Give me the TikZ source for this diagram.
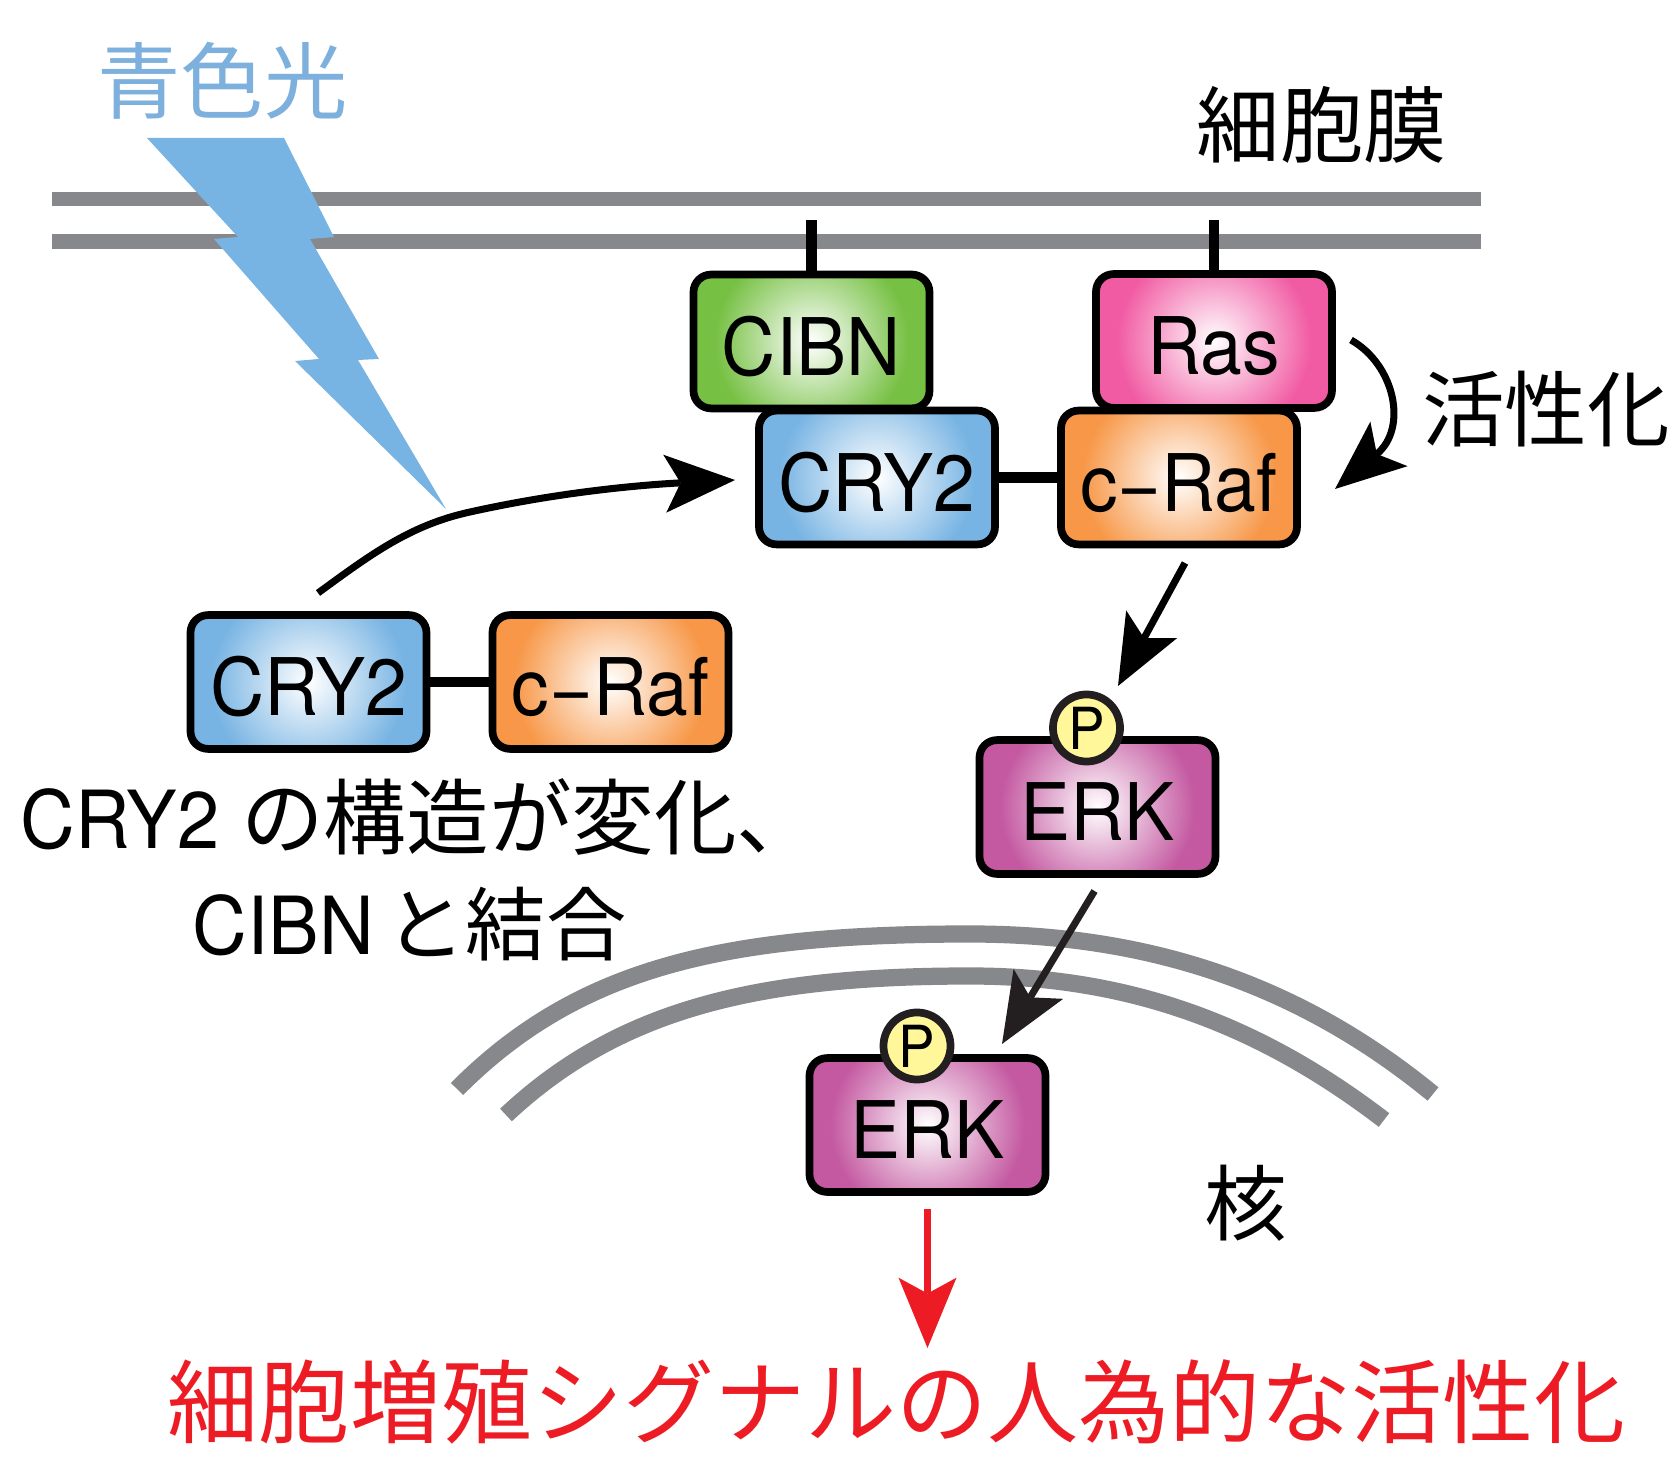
\documentclass[tikz,border=0pt]{standalone}
\usepackage{fontspec}
\setmainfont[FakeStretch=0.945]{TeX Gyre Heros}
\newfontfamily\cjk{Noto Sans CJK JP}
\usetikzlibrary{arrows.meta}

\definecolor{membrane}{HTML}{87888C}
\definecolor{lightblue}{HTML}{78B4E3}
\definecolor{labelblue}{HTML}{7DB0DC}
\definecolor{cibngreen}{HTML}{76C043}
\definecolor{raspink}{HTML}{F15BA3}
\definecolor{raforange}{HTML}{F79747}
\definecolor{erkpurple}{HTML}{C459A1}
\definecolor{pyellow}{HTML}{FFF799}
\definecolor{nearblack}{HTML}{231F20}
\definecolor{signalred}{HTML}{ED1C24}

\newcommand{\declareglow}[1]{%
  \pgfdeclareradialshading{glow#1}{\pgfpointorigin}{%
    color(0bp)=(white); color(18bp)=(#1); color(50bp)=(#1)}}
\declareglow{lightblue}
\declareglow{cibngreen}
\declareglow{raspink}
\declareglow{raforange}
\declareglow{erkpurple}

\tikzset{
  protein/.style = {
    shape = rectangle, draw = black, line width = 2.2pt, rounded corners = 5pt,
    minimum width = 6.7cm * 0.352, minimum height = 3.8cm * 0.352,
    inner sep = 0pt, outer sep = 0pt, fill = #1,
    font = \fontsize{22.6}{24}\selectfont, text height = 19.2pt, text depth = 0pt,
    path picture = {
      \shade[shading = glow#1]
        (path picture bounding box.center) circle (1.35cm);
    }
  },
  phospho/.style = {
    shape = circle, draw = nearblack, line width = 2.2pt, fill = pyellow,
    minimum size = 0.67cm, inner sep = 0pt,
    font = \fontsize{16.5}{17}\selectfont
  },
  caption/.style = {inner sep = 0pt, font = \fontsize{23.5}{26}\selectfont},
  membraneline/.style = {draw = membrane, line width = 4.1pt},
  nucleusline/.style = {draw = membrane, line width = 4.9pt},
  tether/.style = {line width = 2.9pt},
  signal/.style = {
    line width = 2pt,
    -{Stealth[length = 20pt, width = 16.5pt, inset = 4.5pt, line width = 0pt]}
  }
}

\begin{document}
\begin{tikzpicture}[x = 0.01cm, y = -0.01cm]
        \useasboundingbox (0, 0) rectangle (1675, 1458);

        % ------------------------------------------------------------------------
        % Membranes
        \draw[membraneline] (52, 199) -- (1481, 199);
        \draw[membraneline] (52, 241.5) -- (1481, 241.5);

        \draw[nucleusline]
          (457, 1089) .. controls (580, 965) and (730, 934) .. (970, 934)
                      .. controls (1150, 934) and (1300, 985) .. (1433, 1094);
        \draw[nucleusline]
          (506, 1115) .. controls (620, 1008) and (760, 976) .. (970, 976)
                      .. controls (1130, 976) and (1260, 1025) .. (1384, 1120);

        \node[caption, font = \fontsize{23.7}{26}\selectfont] at (1322, 125) (membranelabel) {\cjk 細胞膜};
        \node[caption] at (1246, 1203) (nucleuslabel) {\cjk 核};

        % ------------------------------------------------------------------------
        % Blue light
        \fill[lightblue]
          (147, 138) -- (284, 138) -- (334, 237) -- (310, 239) -- (379, 359)
          -- (358, 360) -- (446, 509) -- (295, 361) -- (319, 359) -- (214, 239)
          -- (238, 237) -- cycle;
        \node[caption, text = labelblue, font = \fontsize{23.7}{26}\selectfont] at (222.5, 81) (lightlabel) {\cjk 青色光};

        % ------------------------------------------------------------------------
        % Before
        \node[protein = lightblue] at (308.5, 682) (cryfree) {CRY2};
        \node[protein = raforange] at (610.5, 682) (raffree) {c−Raf};
        \draw[tether] (cryfree) -- (raffree);

        \node[caption, anchor = west] at (20, 817) (changelabel)
          {{\fontsize{22.8}{26}\selectfont CRY2} {\cjk の構造が変化、}};
        \node[caption, anchor = west] at (192, 924) (bindlabel)
          {{\fontsize{22.8}{26}\selectfont CIBN}\hspace*{3.4pt}{\cjk\fontsize{22.8}{26}\selectfont と結合}};

        % ------------------------------------------------------------------------
        % At the membrane
        \coordinate (cibnroot) at (811.5, 220);
        \coordinate (rasroot) at (1214, 220);

        \node[protein = cibngreen] at (811.5, 341.5) (cibn) {CIBN};
        \node[protein = raspink] at (1214, 341) (ras) {Ras};
        \node[protein = lightblue] at (877, 477.5) (crybound) {CRY2};
        \node[protein = raforange] at (1179, 477.5) (rafbound) {c−Raf};

        \draw[tether]
          (cibnroot) -- (cibn)
          (rasroot) -- (ras)
          (crybound) -- (rafbound)
        ;

        \node[caption] at (1546, 409) (activationlabel) {\cjk 活性化};

        % ------------------------------------------------------------------------
        % ERK
        \node[protein = erkpurple] at (1097.5, 807) (erkcyto) {ERK};
        \node[phospho] at (1086.5, 728) (pcyto) {P};
        \node[protein = erkpurple] at (927.5, 1125) (erknuc) {ERK};
        \node[phospho] at (917, 1046) (pnuc) {P};

        % ------------------------------------------------------------------------
        % Arrows
        \coordinate (bindstart) at (318, 593);
        \coordinate (bindend) at (735, 480);
        \coordinate (activatestart) at (1351, 340);
        \coordinate (activateend) at (1335, 489);
        \coordinate (rafout) at (1185, 563);
        \coordinate (erkin) at (1118, 686);
        \coordinate (erkout) at (1094.5, 891);
        \coordinate (nucin) at (1002, 1044);
        \coordinate (nucout) at (927.5, 1209);
        \coordinate (signalend) at (927.5, 1348);

        \draw[signal]
          (bindstart) .. controls (370, 555) and (410, 525) .. (470, 512)
                      .. controls (560, 492) and (640, 485) .. (bindend);
        \draw[signal]
          (activatestart) .. controls (1395, 365) and (1408, 428) .. (activateend);
        \draw[signal] (rafout) -- (erkin);
        \draw[signal, draw = nearblack, fill = nearblack] (erkout) -- (nucin);
        \draw[signal, draw = signalred, fill = signalred] (nucout) -- (signalend);

        \node[caption, text = signalred, font = \fontsize{25.9}{28}\selectfont]
          at (896.5, 1402) (resultlabel) {\cjk 細胞増殖シグナルの人為的な活性化};
      \end{tikzpicture}
\end{document}
